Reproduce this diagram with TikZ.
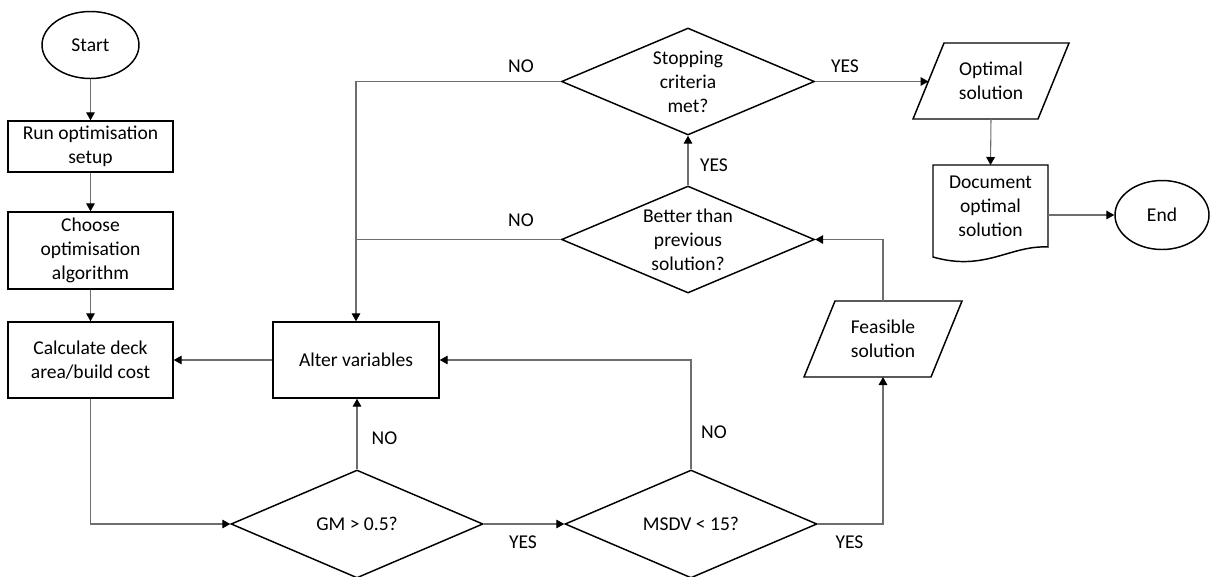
\documentclass[tikz,border=0pt]{standalone}
\usepackage{fontspec}
\setmainfont{Carlito}
\usetikzlibrary{shapes.geometric,arrows.meta,calc}
\definecolor{conncol}{RGB}{110,110,110}
\begin{document}
\begin{tikzpicture}[x=0.75pt,y=-0.75pt,
  every node/.style={font=\fontsize{14.67}{18}\selectfont, text=black},
  shp/.style={draw=black, line width=1.1pt},
  box/.style={shp, rectangle, minimum width=123.75pt, align=center, inner sep=2pt},
  term/.style={shp, ellipse, inner sep=0pt, minimum width=72.75pt, minimum height=50.25pt},
  dec/.style={shp, diamond, inner sep=0pt, minimum width=189pt, minimum height=81pt},
  txt/.style={align=center, inner sep=1pt},
  iobox/.style={rectangle, draw=none, align=center, inner sep=0pt, outer sep=0pt, minimum height=57pt},
  lbl/.style={inner sep=1pt},
  conn/.style={draw=conncol, line width=0.8pt, -{Triangle[length=6pt,width=6.5pt,color=black]}},
  plain/.style={draw=conncol, line width=0.8pt}
]
\useasboundingbox (0,0) rectangle (1210,576);

% left column
\node[term] (start) at (90.5,45) {Start};
\node[box, minimum height=38.25pt] (run) at (90.5,146.5) {Run optimisation\\setup};
\node[box, minimum height=57.75pt] (choose) at (90.5,250.5) {Choose\\optimisation\\algorithm};
\node[box, minimum height=57pt] (calc) at (90.5,360) {Calculate deck\\area/build cost};
\node[box, minimum width=124.5pt, minimum height=57pt] (alter) at (356,360) {Alter variables};

% decisions
\node[dec] (gm) at (357,524) {};
\node[txt] (gmtext) at (gm) {GM > 0.5?};
\node[dec] (msdv) at (691,524) {};
\node[txt] (msdvtext) at (msdv) {MSDV < 15?};
\node[dec, minimum width=189.75pt, minimum height=80.25pt] (better) at (688,239.5) {};
\node[txt] (bettertext) at (better) {Better than\\previous\\solution?};
\node[dec, minimum width=189.75pt, minimum height=80.25pt] (stop) at (688,81.5) {};
\node[txt] (stoptext) at (stop) {Stopping\\criteria\\met?};

% data (parallelograms)
\node[iobox, minimum width=95.25pt] (feas) at (883,339) {Feasible\\solution};
\draw[shp] ($(feas.north west)+(15.5,0)$) -- ($(feas.north east)+(15.5,0)$) -- ($(feas.south east)+(-15.5,0)$) -- ($(feas.south west)+(-15.5,0)$) -- cycle;
\node[iobox, minimum width=93.75pt] (opt) at (991,81) {Optimal\\solution};
\draw[shp] ($(opt.north west)+(15.5,0)$) -- ($(opt.north east)+(15.5,0)$) -- ($(opt.south east)+(-15.5,0)$) -- ($(opt.south west)+(-15.5,0)$) -- cycle;

% document
\node[iobox, minimum width=86.25pt, minimum height=61.5pt] (doc) at (990.5,206) {Document\\optimal\\solution};
\draw[shp] ($(doc.south west)+(0,10)$) -- (doc.north west) -- (doc.north east) -- (doc.south east)
  .. controls ($(doc.south east)+(-38,-2)$) and ($(doc.south west)+(52,25)$) .. ($(doc.south west)+(0,10)$) -- cycle;

\node[term, minimum width=70.5pt, minimum height=51.75pt] (endn) at (1162,215) {End};

% connectors
\draw[conn] (start.south) -- (run.north);
\draw[conn] (run.south) -- (choose.north);
\draw[conn] (choose.south) -- (calc.north);
\draw[conn] (alter.west) -- (calc.east);
\draw[conn] (calc.south) |- (gm.west);
\draw[conn] (gm.north) -- (gm.north |- alter.south);
\draw[conn] (gm.east) -- (msdv.west);
\draw[conn] (msdv.north) |- (alter.east);
\draw[conn] (msdv.east) -| (feas.south);
\draw[conn] (feas.north) |- (better.east);
\draw[conn] (better.north) -- (stop.south);
\draw[plain] (better.west) -- (better.west -| alter.north);
\draw[conn] (stop.west) -| (alter.north);
\draw[conn] (stop.east) -- (stop.east -| opt.west);
\draw[conn] (opt.south) -- (doc.north);
\draw[conn] (endn.west -| doc.east) -- (endn.west);

% labels
\node[lbl] (l1) at (521,66) {NO};
\node[lbl] (l2) at (521,220) {NO};
\node[lbl] (l3) at (714,165) {YES};
\node[lbl] (l4) at (845,66) {YES};
\node[lbl] (l5) at (384.5,438) {NO};
\node[lbl] (l6) at (523,542) {YES};
\node[lbl] (l7) at (714,432) {NO};
\node[lbl] (l8) at (849.5,542) {YES};
\end{tikzpicture}
\end{document}
